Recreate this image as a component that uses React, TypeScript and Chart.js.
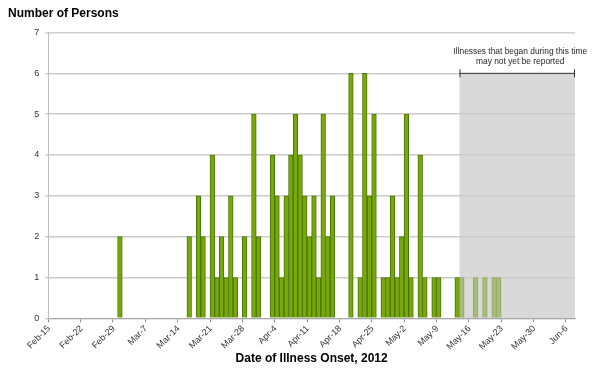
import React, { useEffect, useRef } from 'react';
import { Chart, registerables } from 'chart.js';

Chart.register(...registerables);

// Daily categories, Feb-15 .. Jun-7, 2012
const dayLabels: string[] = [
  'Feb-15','Feb-16','Feb-17','Feb-18','Feb-19','Feb-20','Feb-21','Feb-22','Feb-23','Feb-24','Feb-25','Feb-26','Feb-27','Feb-28','Feb-29',
  'Mar-1','Mar-2','Mar-3','Mar-4','Mar-5','Mar-6','Mar-7','Mar-8','Mar-9','Mar-10','Mar-11','Mar-12','Mar-13','Mar-14','Mar-15','Mar-16',
  'Mar-17','Mar-18','Mar-19','Mar-20','Mar-21','Mar-22','Mar-23','Mar-24','Mar-25','Mar-26','Mar-27','Mar-28','Mar-29','Mar-30','Mar-31',
  'Apr-1','Apr-2','Apr-3','Apr-4','Apr-5','Apr-6','Apr-7','Apr-8','Apr-9','Apr-10','Apr-11','Apr-12','Apr-13','Apr-14','Apr-15',
  'Apr-16','Apr-17','Apr-18','Apr-19','Apr-20','Apr-21','Apr-22','Apr-23','Apr-24','Apr-25','Apr-26','Apr-27','Apr-28','Apr-29','Apr-30',
  'May-1','May-2','May-3','May-4','May-5','May-6','May-7','May-8','May-9','May-10','May-11','May-12','May-13','May-14','May-15','May-16',
  'May-17','May-18','May-19','May-20','May-21','May-22','May-23','May-24','May-25','May-26','May-27','May-28','May-29','May-30','May-31',
  'Jun-1','Jun-2','Jun-3','Jun-4','Jun-5','Jun-6','Jun-7',
];

// Number of persons by date of illness onset (one value per day above)
const persons: number[] = [
  // Feb-15 .. Feb-29
  0,0,0,0,0,0,0,0,0,0,0,0,0,0,0,
  // Mar-1 .. Mar-16
  2,0,0,0,0,0,0,0,0,0,0,0,0,0,0,2,
  // Mar-17 .. Mar-31
  0,3,2,0,4,1,2,1,3,1,0,2,0,5,2,
  // Apr-1 .. Apr-15
  0,0,4,3,1,3,4,5,4,3,2,3,1,5,2,
  // Apr-16 .. Apr-30
  3,0,0,0,6,0,1,6,3,5,0,1,1,3,1,
  // May-1 .. May-16
  2,5,1,0,4,1,0,1,1,0,0,0,1,1,0,0,
  // May-17 .. May-31
  1,0,1,0,1,1,0,0,0,0,0,0,0,0,0,
  // Jun-1 .. Jun-7
  0,0,0,0,0,0,0,
];

const weekTickLabels: string[] = [
  'Feb-15','Feb-22','Feb-29','Mar-7','Mar-14','Mar-21','Mar-28','Apr-4','Apr-11',
  'Apr-18','Apr-25','May-2','May-9','May-16','May-23','May-30','Jun-6',
];

const reportingLagStart = 'May-14';
const yMax = 7;
const shadeTop = 6;
const yTitle = 'Number of Persons';
const xTitle = 'Date of Illness Onset, 2012';
const noteLines = ['Illnesses that began during this time', 'may not yet be reported'];

const FONT = 'Arial, "Liberation Sans", sans-serif';

const App = () => {
  const canvasRef = useRef<HTMLCanvasElement | null>(null);

  useEffect(() => {
    const canvas = canvasRef.current;
    if (!canvas) return;
    const lagIndex = dayLabels.indexOf(reportingLagStart);

    const overlayPlugin = {
      id: 'overlay',
      beforeDraw(chart: any) {
        const { ctx, chartArea } = chart;
        const xs = chart.scales.x;
        const ys = chart.scales.y;
        const half = (xs.getPixelForValue(1) - xs.getPixelForValue(0)) / 2;
        const left = xs.getPixelForValue(lagIndex) - half;
        const top = ys.getPixelForValue(shadeTop);
        const bottom = ys.getPixelForValue(0);
        ctx.save();
        ctx.fillStyle = '#d9d9d9';
        ctx.fillRect(left, top, chartArea.right - left, bottom - top);
        ctx.restore();
      },
      afterDraw(chart: any) {
        const { ctx, chartArea } = chart;
        const xs = chart.scales.x;
        const ys = chart.scales.y;
        const half = (xs.getPixelForValue(1) - xs.getPixelForValue(0)) / 2;
        const left = xs.getPixelForValue(lagIndex) - half;
        const right = chartArea.right;
        const yLine = ys.getPixelForValue(shadeTop);
        ctx.save();
        ctx.strokeStyle = '#333333';
        ctx.lineWidth = 1;
        ctx.beginPath();
        ctx.moveTo(left, yLine);
        ctx.lineTo(right, yLine);
        ctx.moveTo(left + 0.5, yLine - 4);
        ctx.lineTo(left + 0.5, yLine + 4);
        ctx.moveTo(right - 0.5, yLine - 4);
        ctx.lineTo(right - 0.5, yLine + 4);
        ctx.stroke();

        ctx.fillStyle = '#262626';
        ctx.font = `8.4px ${FONT}`;
        ctx.textAlign = 'center';
        ctx.textBaseline = 'middle';
        const cx = (left + right) / 2 + 3;
        ctx.fillText(noteLines[0], cx, yLine - 22);
        ctx.fillText(noteLines[1], cx, yLine - 12);

        ctx.fillStyle = '#000000';
        ctx.font = `bold 12px ${FONT}`;
        ctx.textAlign = 'left';
        ctx.textBaseline = 'alphabetic';
        ctx.fillText(yTitle, 8, 17);
        ctx.restore();
      },
    };

    const chart = new Chart(canvas, {
      type: 'bar',
      data: {
        labels: dayLabels,
        datasets: [
          {
            label: 'Persons',
            data: persons.map((v) => (v === 0 ? null : v)),
            backgroundColor: dayLabels.map((_, i) => (i >= lagIndex ? '#a8bd7a' : '#78a90b')),
            borderColor: dayLabels.map((_, i) => (i >= lagIndex ? '#8fa866' : '#4a7206')),
            borderWidth: 1,
            barPercentage: 1,
            categoryPercentage: 1,
          },
        ],
      },
      options: {
        responsive: false,
        animation: false,
        devicePixelRatio: 1,
        layout: { padding: { left: 0, right: 25, top: 32.5, bottom: 0 } },
        plugins: {
          legend: { display: false },
          tooltip: { enabled: false },
          title: { display: false },
        },
        scales: {
          x: {
            type: 'category',
            offset: true,
            grid: {
              offset: true,
              drawOnChartArea: false,
              drawTicks: true,
              tickLength: 4,
              color: (ctx: any) => (ctx.index % 7 === 0 ? '#8c8c8c' : 'rgba(0,0,0,0)'),
            },
            border: { display: true, color: '#a6a6a6', width: 1 },
            ticks: {
              autoSkip: false,
              maxRotation: 45,
              minRotation: 45,
              labelOffset: -1.5,
              padding: 1,
              color: '#333333',
              font: { family: FONT, size: 9 },
              callback: (_v: any, i: number) => (weekTickLabels.includes(dayLabels[i]) ? dayLabels[i] : ''),
            },
            title: {
              display: true,
              text: xTitle,
              color: '#000000',
              font: { family: FONT, size: 12, weight: 'bold' },
              padding: { top: 0, bottom: 5 },
            },
            afterFit: (scale: any) => {
              scale.height = 52.7;
            },
          },
          y: {
            min: 0,
            max: yMax,
            ticks: {
              stepSize: 1,
              color: '#333333',
              font: { family: FONT, size: 9 },
              padding: 6,
            },
            grid: {
              color: '#cccccc',
              lineWidth: 1.5,
              tickLength: 3,
            },
            border: { display: true, color: '#bfbfbf', width: 1 },
            afterFit: (scale: any) => {
              scale.width = 48.3;
            },
          },
        },
      },
      plugins: [overlayPlugin],
    } as any);

    return () => {
      chart.destroy();
    };
  }, []);

  return (
    <div style={{ position: 'absolute', left: 0, top: 0, width: 600, height: 371, background: '#ffffff' }}>
      <canvas ref={canvasRef} width={600} height={371} style={{ display: 'block', width: 600, height: 371 }} />
    </div>
  );
};

export default App;
